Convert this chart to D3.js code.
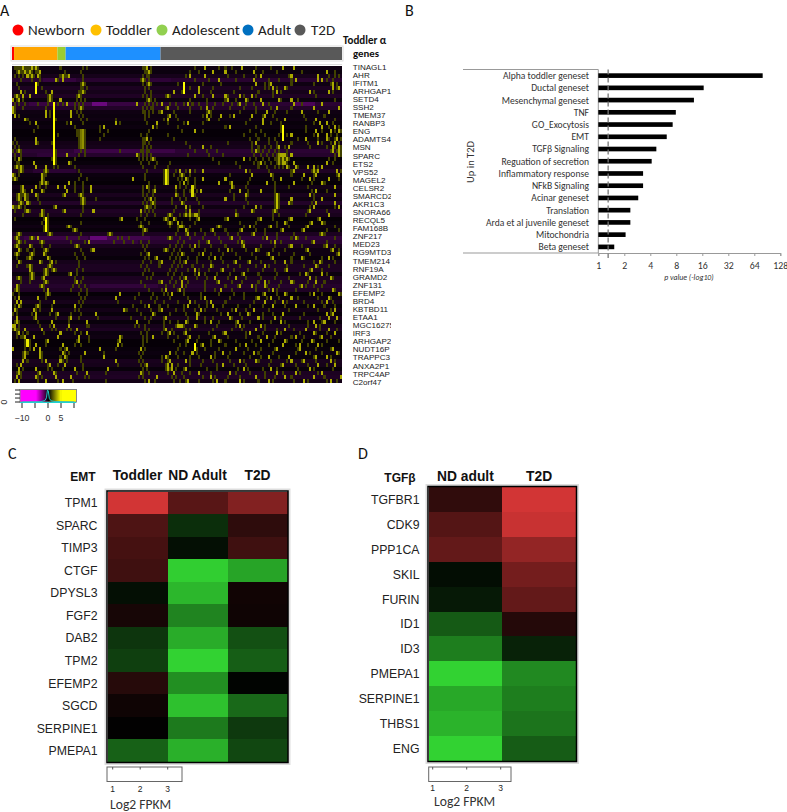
<!DOCTYPE html>
<html>
<head>
<meta charset="utf-8">
<script src="https://cdn.jsdelivr.net/npm/d3@7"></script>
<style>
html, body { margin: 0; padding: 0; background: #fff; }
svg { display: block; }
</style>
</head>
<body>
<script>
// panel A
var stages = ["Newborn", "Toddler", "Adolescent", "Adult", "T2D"];
var stageColors = ["#ff0000", "#ffa500", "#9acd32", "#1e90ff", "#595959"];
var stageLegendColors = ["#ff0000", "#ffc000", "#92d050", "#0070c0", "#595959"];
var stageSamples = [1, 21, 4, 46, 88];
var sampleCount = 160;
var alphaGenes = ["TINAGL1","AHR","IFITM1","ARHGAP1","SETD4","SSH2","TMEM37","RANBP3","ENG","ADAMTS4",
    "MSN","SPARC","ETS2","VPS52","MAGEL2","CELSR2","SMARCD2","AKR1C3","SNORA66","RECQL5",
    "FAM168B","ZNF217","MED23","RG9MTD3","TMEM214","RNF19A","GRAMD2","ZNF131","EFEMP2","BRD4",
    "KBTBD11","ETAA1","MGC16275","IRF3","ARHGAP2","NUDT16P","TRAPPC3","ANXA2P1","TRPC4AP","C2orf47"];
// background level of every heatmap row (read as purple strength)
var rowTone = [-.5,-.4,-.7,-1.3,-.5,-.9,-.7,-1,-.4,-1.4,-1.1,-.5,-.4,-.5,-.3,-.4,-.2,-.2,-.3,-.6,
    -.7,-1.4,-1.2,-.2,-.3,-.6,-1,-.4,-.3,-.2,-.6,-.4,-.8,-.5,-1.1,-.5,-1,-.8,-.2,-.3,
    -.5,-.3,-.9,-1.5,-1.3,-.8,-.5,-.5,-.3,-.7,-.9,-.9,-.4,-.9,-1,-1.2,-1,-.2,-.5,-.7,
    -.3,-.6,-.3,-.8,-.3,-.7,-.9,-.4,-.5,-.2,-.2,-.3,-.4,-.3,-.8,-.7,-.3,-.9,-1,-.6];
// stretches of stronger purple: row, first sample, last sample, level
var purpleRuns = [[3,15,30,-1.7],[3,64,76,-1.5],[9,8,60,-1.8],[9,39,45,-3.4],[9,136,146,-2.4],[21,30,78,-1.9],[22,12,30,-1.5],
    [43,6,36,-1.9],[43,38,46,-3.2],[43,46,66,-2.1],[44,38,60,-1.7],[55,38,70,-1.6],[26,10,30,-1.4]];
// bright vertical stretches: sample, first row, last row, level
var yellowRuns = [[20,9,24,7],[11,4,6,7],[83,4,6,6],[131,15,18,7],[33,16,20,2.8],[34,16,20,3.4],[74,26,29,5.5],[75,26,29,3.5],
    [16,38,41,6.5],[87,30,32,5],[128,32,35,4.5],[129,22,24,3.5],[131,22,24,4],[7,69,70,5.5],[88,70,71,6]];
// bright yellow cells per row (sample index)
var hiCells = [[5,9,11,65,93,111,131,136],[3,6,8,13,66,97,103,117,152],[7,9,12,24,27,86,93,120,135,148],[21,24,63,100,117,137,148,150],
    [34,66,118,125,155],[90,126,132,155,158],[4,19,34,78,90,128,144,153],[2,5,8,18,32,75,88,97,103,110,116],
    [0,3,18,23,66,104,113,120,129,135],[26,60,72,85,110,121,136,150],[0,33,75,94,128,146,158],[0,16,28,72,95,123,140,153],
    [1,16,28,76,94,101,107,116,122],[6,75,95,121,132,147],[11,28,50,70,85,121,149,152],[44,68,105,150,156],
    [88,147,154,158],[135,148,152],[11,65,142,152,157],[11,118,148,156],
    [92,129,134,155,158],[3,118,155,158],[26,60,130,132,135,158],[3,68,112,129,133],
    [10,27,120,132,136,152],[2,4,11,16,133,137,143,146,150],[4,16,81,86,92,113,136,146,148,157],[0,14,82,116,125,141,147,158],
    [1,14,58,84,92,103,130,144,153],[14,16,27,83,100,106,123,136,150],[5,11,22,25,38,65,79,106,156],[5,9,14,26,38,69,91,110,120,147],
    [3,6,11,25,33,79,113,144,156],[3,6,34,67,103,135,150],[4,7,34,68,82,134,147,156],[0,3,21,65,84,118,146,158],
    [7,14,25,39,62,86,116,127,144],[14,76,84,86,88,89,108,153],[53,74,78,90,104,120,135,149],[76,80,132,145,150],
    [27,62,81,82,100,115,125,143],[30,64,84,97,111,131,141],[3,18,47,85,117,150],[2,9,12,76,106,123,137],
    [3,14,37,95,111,127,146],[2,8,31,88,112,135,152],[3,16,39,74,104,118,143,155],[2,9,15,66,82,92,124,158],
    [8,17,70,98,126,140,153],[3,13,19,72,84,108,115,132,149],[8,18,96,122,147],[8,16,20,88,102,133,145],
    [9,16,28,90,112,142,150],[3,9,15,84,98,108,144,154],[16,31,72,82,100,122,135,147],[2,14,82,110,116,122,140],
    [2,17,74,81,101,126,155],[17,52,77,122,132,146,158],[3,12,50,93,119,125,135,153],[2,4,20,86,96,122,131,152],
    [3,12,30,66,85,97,126,137,146],[1,10,19,54,72,91,108,117,156],[11,22,40,68,89,104,114,131,152,155],[2,11,28,74,89,105,119,127,153,157],
    [2,19,36,60,84,96,109,130,146,151],[0,1,20,27,80,81,82,88,110,120,147],[1,6,14,31,74,118,132,142,153],[3,23,36,76,84,103,115,128,146,156],
    [6,10,22,32,52,68,86,98,123,137,150],[17,32,52,85,100,120,132,145],[11,24,51,92,113,131,139,148],[0,10,13,26,42,62,108,128,139,155],
    [6,13,24,35,76,87,102,117,142,157],[6,13,25,44,74,96,124,134,147,152],[5,16,23,50,76,84,110,118,135,141,154],[4,18,25,65,75,77,102,131,148,156],
    [3,11,30,46,75,77,84,112,125,144],[3,13,20,36,62,78,90,105,128,137,150],[2,11,21,28,70,96,118,132,146,159],[3,16,24,66,85,99,110,124,141,154]];
// dim olive cells per row (sample index)
var loCells = [[1,2,3,4,6,7,8,10,12,23,34,36,63,64,67,88,100,103,106,118,125],[2,4,5,7,9,11,12,25,33,64,65,67,86,90,108,121,128,140,156],[1,3,5,8,10,13,23,25,26,34,63,65,66,84,104,112,118,134,153,156,158],[4,9,13,22,34,62,64,66,88,95,108,124,129,135,152,155],
    [2,12,33,35,63,65,67,80,92,101,122,124,135,146,154,157],[3,14,33,34,36,64,66,86,97,110,116,122,124,128,133,157],[6,16,32,33,35,64,67,82,96,107,119,126,130,146,155],[1,3,17,19,31,33,63,65,67,74,76,92,104,112,118,126,147],
    [2,5,17,19,31,33,35,65,67,69,86,94,103,108,114,130,138,156],[1,3,6,12,17,22,24,30,32,34,64,66,68,70,72,76,79,83,87,90,94,98,102,106,109,113,117,124,140],[1,5,16,30,32,34,63,65,67,68,74,80,86,91,97,105,112,118,125,135],[1,18,31,33,63,64,66,68,71,78,86,94,96,110,118,127,133,148],
    [3,18,32,34,64,66,75,79,92,96,105,121,126,141,151],[7,21,33,36,50,64,73,80,94,100,115,128,142,156],[8,26,34,52,65,75,83,92,113,125,130,146,155],[12,30,42,44,68,70,80,103,118,130,142,153,158],
    [10,31,32,35,42,46,66,82,92,115,120,130,142,150,156,159],[22,31,32,35,44,62,65,75,112,118,122,129,133,146,154,157],[1,32,35,42,63,64,67,78,115,119,124,127,138,148,153,156,159],[0,2,12,19,32,35,63,64,66,84,104,116,124,128,135,143,150,154,158],
    [1,3,32,35,63,65,67,86,96,116,119,122,125,128,132,144,152,156,159],[0,2,4,21,33,35,52,62,63,65,66,88,94,99,116,119,121,124,127,129,133,154,157,159],[1,4,21,32,35,61,63,65,67,85,95,102,117,120,123,126,128,131,133,156,159],[1,4,19,21,30,61,63,65,67,69,97,115,118,121,124,127,128,130,132,134,153,156],
    [2,3,21,28,62,66,70,76,100,108,117,119,122,125,128,130,131,133,155],[1,3,5,20,22,30,63,69,75,110,119,123,127,129,131,134,138,148],[3,5,15,17,32,65,73,75,79,84,88,115,124,135,145,147,159],[1,3,15,16,33,64,73,75,78,81,83,86,105,126,135,146,157],
    [0,2,15,32,36,64,73,75,80,82,85,88,115,126,140,146,158],[13,15,17,30,34,66,73,75,81,85,88,100,105,114,127,145,151],[4,13,16,30,34,63,66,69,79,81,84,88,107,113,127,134,143],[4,6,15,30,34,63,66,68,79,83,86,89,105,114,127,145,152],
    [2,4,5,7,12,24,32,34,63,65,68,80,83,88,107,114,127,129,146],[2,4,7,12,33,35,40,64,66,69,77,81,84,89,107,113,127,129,146],[3,5,8,13,33,35,63,65,67,69,77,83,90,114,127,129,135,145],[1,2,4,6,20,34,64,66,67,69,79,86,92,112,120,127,129,144,156],
    [1,6,8,15,24,34,62,64,66,68,78,84,90,108,117,126,128,143,152],[5,13,15,17,33,62,65,69,75,77,81,83,85,87,90,109,126,129,142],[1,15,17,52,60,64,73,75,79,86,89,103,119,126,134,148],[14,17,33,62,66,75,77,82,88,110,118,128,133,144,151],
    [15,17,26,28,61,63,76,80,83,86,99,101,112,117,124,128,134,142,156],[15,17,29,31,63,65,80,85,91,96,103,110,118,122,130,140,152,158],[2,4,17,19,33,46,48,63,79,84,88,93,98,104,109,116,122,128,136,149,151],[1,3,8,10,26,32,51,53,56,75,77,81,86,92,100,105,110,121,128,135,138,142,156],
    [2,4,6,13,15,28,35,49,54,58,62,66,80,83,90,94,101,109,112,125,130,145,152],[1,3,9,14,18,30,32,63,65,76,79,82,86,90,96,103,111,120,127,134,140,151,156],[4,7,10,15,17,33,38,64,73,75,78,81,87,93,100,106,113,119,126,132,142,154,158],[1,3,8,10,16,30,34,62,65,77,80,83,90,96,102,108,116,123,129,136,144,157],
    [2,7,9,18,31,35,64,66,69,76,79,81,85,89,95,101,110,118,125,135,141,150,155],[4,14,18,21,32,63,67,71,78,81,83,89,96,102,107,114,120,127,135,146,150,156],[2,7,9,17,19,32,62,65,71,77,80,82,87,92,97,104,110,118,124,133,141,148,153],[9,15,17,19,21,31,34,64,66,76,79,85,90,95,101,107,114,121,127,132,144,150],
    [8,10,15,17,27,31,63,68,75,78,82,88,93,99,105,111,119,128,139,143,152],[2,4,8,10,14,30,34,65,67,77,81,83,89,94,104,113,120,127,134,147,155],[4,8,15,17,30,33,62,71,76,79,85,93,99,106,111,119,124,130,136,143,151],[3,13,15,29,32,35,64,74,78,84,93,103,109,118,123,129,139,142,146,150],
    [1,3,15,28,33,36,66,72,80,83,93,98,106,118,124,128,137,148,156],[0,3,16,18,32,36,61,68,73,75,83,91,100,107,112,121,128,133,144,150,159],[1,3,16,33,35,50,59,67,70,76,85,91,105,112,118,123,129,138,148,154],[2,4,13,32,34,51,62,69,73,80,88,94,103,117,127,133,141,150,155],
    [1,4,11,13,19,33,58,64,71,75,83,90,94,102,109,115,121,132,143,151,156],[2,11,13,30,32,55,60,67,71,79,83,88,93,99,106,113,124,134,148,154],[0,2,9,18,21,28,33,62,69,76,84,90,101,110,115,121,126,141,154],[10,21,27,32,41,57,64,67,73,85,93,97,106,111,121,130,139,149,153],
    [1,3,12,27,36,60,66,73,76,80,85,93,100,108,115,125,132,143,150,156],[0,3,13,18,36,37,59,61,64,73,79,83,89,99,108,112,122,134,143,149],[0,2,3,19,21,26,28,64,66,73,77,84,86,97,106,111,122,128,136,149,157],[2,5,7,15,30,33,62,65,72,75,78,83,95,102,113,121,130,139,147,152],
    [2,4,5,22,37,53,63,65,75,80,85,90,97,104,113,119,127,135,141,149,154],[6,8,16,31,37,51,63,65,78,84,89,96,101,108,116,126,133,140,146,152,158],[6,8,16,30,33,53,63,81,84,91,96,103,110,118,124,131,137,143,150],[6,8,23,25,42,50,62,64,80,89,93,100,108,114,120,127,138,147,154],
    [5,7,14,25,27,44,61,63,79,83,89,98,105,112,119,126,137,144,150,158],[5,14,23,26,33,62,72,75,80,86,90,98,104,115,120,129,134,146,154],[5,7,14,24,26,33,61,63,72,75,86,92,97,105,112,119,125,133,140,147,156],[2,4,17,22,34,51,62,64,74,77,80,86,91,99,107,113,124,130,137,143,152],
    [3,5,17,19,24,34,63,65,74,76,79,83,94,99,109,114,121,128,138,146,155],[2,4,12,21,31,45,63,66,75,78,82,86,90,96,108,115,122,131,139,148],[2,4,12,14,21,35,37,61,63,77,79,83,92,98,104,110,122,127,135,146,151],[1,3,12,22,29,45,64,69,78,81,84,90,97,103,112,119,126,136,143,152,157]];
var keyHist = [[-10,0],[-3,.02],[-1.2,.12],[-.6,.35],[-.2,1],[.1,.95],[.5,.3],[1.2,.1],[3,.03],[10,0]];

// panel B
var genesets = ["Alpha toddler geneset","Ductal geneset","Mesenchymal geneset","TNF","GO_Exocytosis","EMT","TGFβ Signaling",
    "Reguation of secretion","Inflammatory response","NFkB Signaling","Acinar geneset","Translation","Arda et al juvenile geneset","Mitochondria","Beta geneset"];
var pValues = [80, 16.6, 12.8, 7.9, 7.26, 6.2, 4.7, 4.15, 3.3, 3.3, 2.9, 2.35, 2.35, 2.07, 1.53];
var pTicks = [1, 2, 4, 8, 16, 32, 64, 128];
var pCutoff = 1.3;

// panel C
var emtGenes = ["TPM1","SPARC","TIMP3","CTGF","DPYSL3","FGF2","DAB2","TPM2","EFEMP2","SGCD","SERPINE1","PMEPA1"];
var emtGroups = ["Toddler", "ND Adult", "T2D"];
var emtToddler = [1, .37, .33, .3, -.07, .11, -.25, -.3, .18, .07, .01, -.46];
var emtAdult = [.42, -.22, -.07, -.98, -.87, -.63, -.82, -1, -.68, -.92, -.58, -.84];
var emtT2D = [.62, .22, .3, -.78, .08, .07, -.38, -.45, -.02, -.5, -.27, -.34];

// panel D
var tgfGenes = ["TGFBR1","CDK9","PPP1CA","SKIL","FURIN","ID1","ID3","PMEPA1","SERPINE1","THBS1","ENG"];
var tgfGroups = ["ND adult", "T2D"];
var tgfAdult = [.23, .4, .47, -.06, -.12, -.43, -.6, -1, -.8, -.85, -1];
var tgfT2D = [1, .95, .7, .55, .47, .17, -.16, -.65, -.6, -.55, -.44];
var fpkmTicks = [1, 2, 3];

var calibri = "Carlito, Lato, sans-serif";
var arial = "'Liberation Sans', Arial, sans-serif";

var svg = d3.select("body")
    .append("svg")
    .attr("width", 787)
    .attr("height", 812);

function letter(t, x, y) {
    svg.append("text").attr("x", x).attr("y", y).text(t)
        .attr("font-family", calibri).attr("font-size", 16).attr("fill", "#111");
}
letter("A", 0, 16);
letter("B", 405, 16);
letter("C", 8, 459);
letter("D", 358, 459);

// ---- A ----
var legendX = [18, 96, 162, 248, 300];
var legend = svg.selectAll(".stage")
    .data(stages)
    .enter()
    .append("g")
    .attr("transform", function(d, i) { return "translate(" + legendX[i] + ",30)"; });
legend.append("circle")
    .attr("r", 5.5)
    .attr("fill", function(d, i) { return stageLegendColors[i]; });
legend.append("text")
    .attr("x", function(d, i) { return i == 4 ? 11 : 10; })
    .attr("dy", ".36em")
    .attr("font-family", calibri)
    .attr("font-size", 15)
    .attr("fill", "#222")
    .text(function(d) { return d; });

var sampleX = d3.scaleBand().domain(d3.range(sampleCount)).range([12, 342]);
var rowY = d3.scaleBand().domain(d3.range(rowTone.length)).range([66, 383]);
var colorA = d3.scaleLinear().domain([-7, 0, 6]).range(["#d810ff", "#000000", "#ffff00"]).clamp(true);
var colorKey = d3.scaleLinear().domain([-5, 0, 5]).range(["#ff00ff", "#000000", "#ffff00"]).clamp(true);

var running = 0;
var stageRows = stageSamples.map(function(n, i) {
    var r = {start: running, n: n, color: stageColors[i]};
    running += n;
    return r;
});
svg.append("rect").attr("x", 11).attr("y", 46).attr("width", 332).attr("height", 15)
    .attr("fill", "#fff").attr("stroke", "#ddd");
svg.selectAll(".band")
    .data(stageRows)
    .enter()
    .append("rect")
    .attr("x", function(d) { return sampleX(d.start); })
    .attr("y", 47)
    .attr("width", function(d) { return d.n * sampleX.bandwidth(); })
    .attr("height", 13)
    .attr("fill", function(d) { return d.color; });
svg.append("line").attr("x1", 12).attr("x2", 342).attr("y1", 64.5).attr("y2", 64.5).attr("stroke", "#ddd");

var cells = [];
rowTone.forEach(function(tone, r) {
    var vals = d3.range(sampleCount).map(function() { return tone; });
    purpleRuns.forEach(function(p) {
        if (p[0] == r) d3.range(p[1], p[2] + 1).forEach(function(c) { vals[c] = p[3]; });
    });
    loCells[r].forEach(function(c) { vals[c] = 1.5; });
    hiCells[r].forEach(function(c) { vals[c] = 4; });
    yellowRuns.forEach(function(y) {
        if (r >= y[1] && r <= y[2]) vals[y[0]] = y[3];
    });
    vals.forEach(function(v, c) { cells.push({r: r, c: c, v: v}); });
});
svg.append("g")
    .attr("shape-rendering", "crispEdges")
    .selectAll("rect")
    .data(cells)
    .enter()
    .append("rect")
    .attr("x", function(d) { return sampleX(d.c); })
    .attr("y", function(d) { return rowY(d.r); })
    .attr("width", sampleX.bandwidth() + .3)
    .attr("height", rowY.bandwidth() + .3)
    .attr("fill", function(d) { return colorA(d.v); });

svg.append("text").attr("x", 343).attr("y", 44)
    .attr("font-family", calibri).attr("font-size", 11).attr("font-weight", "bold").attr("fill", "#111").text("Toddler α");
svg.append("text").attr("x", 353).attr("y", 57)
    .attr("font-family", calibri).attr("font-size", 10.8).attr("font-weight", "bold").attr("fill", "#111").text("genes");

svg.append("clipPath").attr("id", "geneClip")
    .append("rect").attr("x", 350).attr("y", 60).attr("width", 41).attr("height", 330);
var geneY = d3.scalePoint().domain(alphaGenes).range([66.8, 381.8]);
svg.append("g").attr("clip-path", "url(#geneClip)")
    .selectAll("text")
    .data(alphaGenes)
    .enter()
    .append("text")
    .attr("x", 352.7)
    .attr("y", function(d) { return geneY(d); })
    .attr("dy", ".36em")
    .attr("font-family", arial)
    .attr("font-size", 8.1)
    .attr("fill", "#222")
    .text(function(d) { return d; });

// colour key
var keyX = d3.scaleLinear().domain([-10, 10]).range([22, 74]);
var keyY = d3.scaleLinear().domain([0, 1]).range([402, 390]);
svg.append("g").attr("shape-rendering", "crispEdges")
    .selectAll("rect")
    .data(d3.range(-10.8, 10.8, .4))
    .enter()
    .append("rect")
    .attr("x", function(d) { return keyX(d); })
    .attr("y", 390)
    .attr("width", 1.2)
    .attr("height", 12)
    .attr("fill", function(d) { return colorKey(d); });
svg.append("rect").attr("x", 20).attr("y", 389.5).attr("width", 56.5).attr("height", 12.5)
    .attr("fill", "none").attr("stroke", "#888");
svg.append("path")
    .datum(keyHist)
    .attr("fill", "none")
    .attr("stroke", "#1fc8c8")
    .attr("stroke-width", 1)
    .attr("d", d3.line().x(function(d) { return keyX(d[0]); }).y(function(d) { return keyY(d[1]); }));
svg.append("line").attr("x1", 20).attr("x2", 76).attr("y1", 402.5).attr("y2", 402.5).attr("stroke", "#1fd0d0");
svg.selectAll(".keyTick")
    .data([-10, -5, 0, 5, 10])
    .enter()
    .append("line")
    .attr("x1", function(d) { return keyX(d); })
    .attr("x2", function(d) { return keyX(d); })
    .attr("y1", 403)
    .attr("y2", 408)
    .attr("stroke", "#222");
svg.selectAll(".keyLabel")
    .data([-10, 0, 5])
    .enter()
    .append("text")
    .attr("x", function(d) { return keyX(d); })
    .attr("y", 421)
    .attr("text-anchor", "middle")
    .attr("font-family", arial)
    .attr("font-size", 8.8)
    .attr("fill", "#333")
    .text(function(d) { return String(d).replace("-", "−"); });
svg.selectAll(".keyCount")
    .data([0, .33, .66, 1])
    .enter()
    .append("line")
    .attr("x1", 15)
    .attr("x2", 20)
    .attr("y1", function(d) { return keyY(d); })
    .attr("y2", function(d) { return keyY(d); })
    .attr("stroke", "#222");
svg.append("text")
    .attr("transform", "translate(7,402) rotate(-90)")
    .attr("text-anchor", "middle")
    .attr("font-family", arial)
    .attr("font-size", 8.8)
    .attr("fill", "#333")
    .text("0");

// ---- B ----
var pX = d3.scaleLog().base(2).domain([1, 128]).range([598.3, 780.3]);
var setY = d3.scaleBand().domain(genesets).range([69.5, 253]).paddingInner(.62).paddingOuter(.31);

svg.append("line").attr("x1", 463).attr("x2", 598.3).attr("y1", 69.5).attr("y2", 69.5).attr("stroke", "#999");
svg.append("line").attr("x1", 598.3).attr("x2", 598.3).attr("y1", 69.5).attr("y2", 253).attr("stroke", "#999");
svg.append("line").attr("x1", 463).attr("x2", 598.3).attr("y1", 253).attr("y2", 253).attr("stroke", "#999");

var pAxis = svg.append("g")
    .attr("transform", "translate(0,253)")
    .call(d3.axisBottom(pX).tickValues(pTicks).tickSize(3).tickPadding(6).tickFormat(d3.format("d")));
pAxis.selectAll(".domain").attr("stroke", "#999");
pAxis.selectAll(".tick line").attr("stroke", "#999");
pAxis.selectAll(".tick text")
    .attr("font-family", calibri)
    .attr("font-size", 9.8)
    .attr("fill", "#333");

svg.selectAll(".bar")
    .data(genesets)
    .enter()
    .append("rect")
    .attr("x", pX(1))
    .attr("y", function(d) { return setY(d); })
    .attr("width", function(d, i) { return pX(pValues[i]) - pX(1); })
    .attr("height", setY.bandwidth())
    .attr("fill", "#000");
svg.append("line")
    .attr("x1", pX(pCutoff))
    .attr("x2", pX(pCutoff))
    .attr("y1", 69.5)
    .attr("y2", 258)
    .attr("stroke", "#777")
    .attr("stroke-width", 1.3)
    .attr("stroke-dasharray", "5,3");

svg.selectAll(".setLabel")
    .data(genesets)
    .enter()
    .append("text")
    .attr("x", 589)
    .attr("y", function(d) { return setY(d) + setY.bandwidth() / 2; })
    .attr("dy", ".36em")
    .attr("text-anchor", "end")
    .attr("font-family", calibri)
    .attr("font-size", 9.6)
    .attr("fill", "#333")
    .text(function(d) { return d; });
svg.append("text")
    .attr("transform", "translate(474,162) rotate(-90)")
    .attr("text-anchor", "middle")
    .attr("font-family", calibri)
    .attr("font-size", 10.5)
    .attr("fill", "#333")
    .text("Up in T2D");
svg.append("text")
    .attr("x", 689)
    .attr("y", 279.5)
    .attr("text-anchor", "middle")
    .attr("font-family", calibri)
    .attr("font-size", 7.8)
    .attr("font-style", "italic")
    .attr("fill", "#333")
    .text("p value (-log10)");

// ---- C and D ----
var colorFpkm = d3.scaleLinear().domain([-1, 0, 1]).range(["#32d232", "#000000", "#d23535"]);

function fpkmPanel(p) {
    var x = d3.scaleBand().domain(p.groups).range(p.xRange);
    var y = d3.scaleBand().domain(p.genes).range(p.yRange);
    var rows = [];
    p.genes.forEach(function(g, r) {
        p.groups.forEach(function(h, c) {
            rows.push({gene: g, group: h, value: p.values[c][r]});
        });
    });
    svg.append("rect")
        .attr("x", p.xRange[0] - 1.5)
        .attr("y", p.yRange[0] - 1.5)
        .attr("width", p.xRange[1] - p.xRange[0] + 3)
        .attr("height", p.yRange[1] - p.yRange[0] + 3)
        .attr("fill", "none")
        .attr("stroke", "#ddd")
        .attr("stroke-width", 3);
    svg.append("g")
        .attr("shape-rendering", "crispEdges")
        .selectAll("rect")
        .data(rows)
        .enter()
        .append("rect")
        .attr("x", function(d) { return x(d.group); })
        .attr("y", function(d) { return y(d.gene); })
        .attr("width", x.bandwidth())
        .attr("height", y.bandwidth())
        .attr("fill", function(d) { return colorFpkm(d.value); });
    svg.append("rect")
        .attr("x", p.xRange[0] - .5)
        .attr("y", p.yRange[0] - .5)
        .attr("width", p.xRange[1] - p.xRange[0] + 1)
        .attr("height", p.yRange[1] - p.yRange[0] + 1)
        .attr("fill", "none")
        .attr("stroke", "#000")
        .attr("stroke-width", 1.5);

    svg.selectAll(".g" + p.id)
        .data(p.genes)
        .enter()
        .append("text")
        .attr("x", p.labelX)
        .attr("y", function(d) { return y(d) + y.bandwidth() / 2; })
        .attr("dy", ".36em")
        .attr("text-anchor", "end")
        .attr("font-family", arial)
        .attr("font-size", 12.3)
        .attr("fill", "#222")
        .text(function(d) { return d; });
    svg.selectAll(".h" + p.id)
        .data(p.groups)
        .enter()
        .append("text")
        .attr("x", function(d) { return x(d) + x.bandwidth() / 2 + p.headShift; })
        .attr("y", p.headY)
        .attr("text-anchor", "middle")
        .attr("font-family", arial)
        .attr("font-size", 13.8)
        .attr("font-weight", "bold")
        .attr("fill", "#111")
        .text(function(d) { return d; });
    svg.append("text")
        .attr("x", p.titleX)
        .attr("y", p.headY + 1)
        .attr("text-anchor", "middle")
        .attr("font-family", arial)
        .attr("font-size", 12)
        .attr("font-weight", "bold")
        .attr("fill", "#111")
        .text(p.title);

    var s = d3.scaleLinear().domain([1, 3]).range(p.keyRange);
    svg.append("rect")
        .attr("x", p.keyBox[0])
        .attr("y", 767)
        .attr("width", p.keyBox[1] - p.keyBox[0])
        .attr("height", 14.5)
        .attr("fill", "#fff")
        .attr("stroke", "#666");
    svg.selectAll(".kt" + p.id)
        .data(fpkmTicks)
        .enter()
        .append("line")
        .attr("x1", function(d) { return s(d); })
        .attr("x2", function(d) { return s(d); })
        .attr("y1", 767)
        .attr("y2", 769.5)
        .attr("stroke", "#555");
    svg.selectAll(".kl" + p.id)
        .data(fpkmTicks)
        .enter()
        .append("text")
        .attr("x", function(d) { return s(d); })
        .attr("y", p.keyLabelY)
        .attr("text-anchor", "middle")
        .attr("font-family", arial)
        .attr("font-size", 8.5)
        .attr("fill", "#222")
        .text(function(d) { return d; });
    svg.append("text")
        .attr("x", p.keyTitleX)
        .attr("y", p.keyTitleY)
        .attr("font-family", calibri)
        .attr("font-size", 13.6)
        .attr("fill", "#333")
        .text("Log2 FPKM");
}

fpkmPanel({id: "c", title: "EMT", titleX: 83, genes: emtGenes, groups: emtGroups,
    values: [emtToddler, emtAdult, emtT2D],
    xRange: [107.5, 287.5], yRange: [491.5, 762], labelX: 97.5, headY: 480, headShift: 0,
    keyBox: [107, 182], keyRange: [112.7, 167.7], keyLabelY: 792, keyTitleX: 110, keyTitleY: 809});
fpkmPanel({id: "d", title: "TGFβ", titleX: 400, genes: tgfGenes, groups: tgfGroups,
    values: [tgfAdult, tgfT2D],
    xRange: [428.5, 576], yRange: [487, 761], labelX: 419.5, headY: 481, headShift: 0,
    keyBox: [428.7, 511], keyRange: [432.7, 500.7], keyLabelY: 791, keyTitleX: 434, keyTitleY: 806});
</script>
</body>
</html>
